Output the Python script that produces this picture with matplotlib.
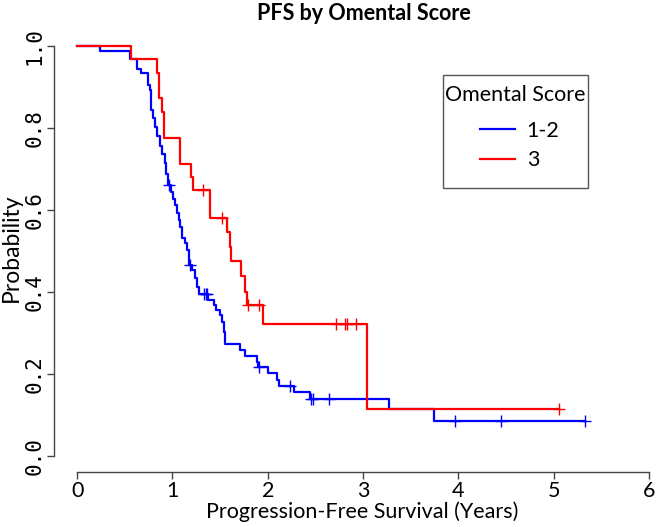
import numpy as np
import matplotlib
matplotlib.use('Agg')
import matplotlib.pyplot as plt
from matplotlib.lines import Line2D
from matplotlib.patches import Rectangle

# Kaplan-Meier steps (years, probability after the step)
blue_t = [0, 0.242, 0.557, 0.627, 0.669, 0.739, 0.76, 0.774, 0.795, 0.813,
          0.837, 0.865, 0.89, 0.918, 0.935, 0.949, 0.984, 1.005, 1.03, 1.047,
          1.072, 1.082, 1.10, 1.135, 1.153, 1.17, 1.178, 1.205, 1.24, 1.258,
          1.275, 1.37, 1.432, 1.46, 1.495, 1.52, 1.537, 1.555, 1.713, 1.765,
          1.888, 1.90, 2.0, 2.1, 2.116, 2.28, 2.44, 3.278, 3.745]
blue_s = [1.0, 0.989, 0.968, 0.945, 0.933, 0.905, 0.893, 0.844, 0.824, 0.803,
          0.78, 0.755, 0.737, 0.714, 0.689, 0.66, 0.645, 0.628, 0.612, 0.592,
          0.576, 0.559, 0.531, 0.519, 0.502, 0.486, 0.466, 0.454, 0.433, 0.413,
          0.395, 0.38, 0.368, 0.356, 0.344, 0.328, 0.303, 0.273, 0.259, 0.244,
          0.23, 0.216, 0.202, 0.185, 0.171, 0.157, 0.139, 0.114, 0.086]
blue_cens = [0.96, 1.187, 1.327, 1.35, 1.365, 1.905, 2.238, 2.459, 2.476, 2.64,
             3.97, 4.45, 5.33]

red_t = [0, 0.567, 0.837, 0.858, 0.89, 0.914, 1.075, 1.085, 1.198, 1.215,
         1.398, 1.573, 1.608, 1.618, 1.723, 1.765, 1.783, 1.951, 3.044]
red_s = [1.0, 0.968, 0.935, 0.872, 0.84, 0.776, 0.745, 0.712, 0.681, 0.649,
         0.581, 0.547, 0.509, 0.476, 0.439, 0.401, 0.368, 0.322, 0.114]
red_cens = [1.32, 1.52, 1.79, 1.905, 2.72, 2.816, 2.834, 2.93, 5.06]

groups = ['1-2', '3']
x_ticks = [0, 1, 2, 3, 4, 5, 6]
y_ticks = [0.0, 0.2, 0.4, 0.6, 0.8, 1.0]


def s_at(t, s, tc):
    idx = np.searchsorted(t, tc, side='right') - 1
    return np.array(s)[idx]


W, H = 658, 527
fig = plt.figure(figsize=(W / 100, H / 100), dpi=100)
ax = fig.add_axes([54.2 / W, 1 - 472.4 / H, 617.6 / W, 442.8 / H])

for t, s, cens, col in [(blue_t, blue_s, blue_cens, '#0000ff'),
                        (red_t, red_s, red_cens, '#ff0000')]:
    tt = list(t) + [cens[-1]]
    ss = list(s) + [s[-1]]
    ax.step(tt, ss, where='post', color=col, lw=1.6)
    ax.plot(cens, s_at(t, s, cens), ls='none', marker='+', ms=8, mew=1,
            color=col)

ax.set_xlim(-0.24, 6.24)
ax.set_ylim(-0.04, 1.04)
for sp in ['top', 'right']:
    ax.spines[sp].set_visible(False)
ax.spines['left'].set_bounds(0, 1)
ax.spines['bottom'].set_bounds(0, 6)
for sp in ['left', 'bottom']:
    ax.spines[sp].set_color('#444444')
    ax.spines[sp].set_linewidth(1)

ax.set_xticks(x_ticks)
ax.set_xticklabels([str(v) for v in x_ticks], family='Lato', fontsize=15.5)
ax.set_yticks(y_ticks)
ax.set_yticklabels(['%.1f' % v for v in y_ticks], family='DejaVu Sans Mono',
                   fontsize=15, rotation=90, va='center')
ax.tick_params(axis='both', length=5, width=1, color='#444444')
ax.tick_params(axis='x', pad=1)
ax.tick_params(axis='y', pad=2)

fig.text(364 / W, 1 - 13 / H, 'PFS by Omental Score', ha='center',
         va='center', family='Lato', fontsize=15.5, fontweight='bold')
fig.text(362 / W, 1 - 512 / H, 'Progression-Free Survival (Years)',
         ha='center', va='center', family='Lato', fontsize=15.5)
fig.text(11 / W, 1 - 248 / H, 'Probability', ha='center', va='center',
         rotation=90, family='Lato', fontsize=16.5)

# legend: box, title and entries
fig.patches.append(Rectangle((443 / W, 1 - 188 / H), 145 / W, 113 / H,
                             transform=fig.transFigure, fill=False,
                             edgecolor='#555555', lw=1))
fig.text(515.5 / W, 1 - 95 / H, 'Omental Score', ha='center', va='center',
         family='Lato', fontsize=15.5)
handles = [Line2D([], [], color='#0000ff', lw=1.6),
           Line2D([], [], color='#ff0000', lw=1.6)]
leg = ax.legend(handles, groups, loc='upper center',
                bbox_to_anchor=(520 / W, 1 - 121 / H),
                bbox_transform=fig.transFigure, frameon=False,
                borderpad=0, borderaxespad=0,
                prop={'family': 'Lato', 'size': 15.5},
                handlelength=1.6, handletextpad=0.55, labelspacing=0.42)

fig.savefig('out.png', dpi=100)
